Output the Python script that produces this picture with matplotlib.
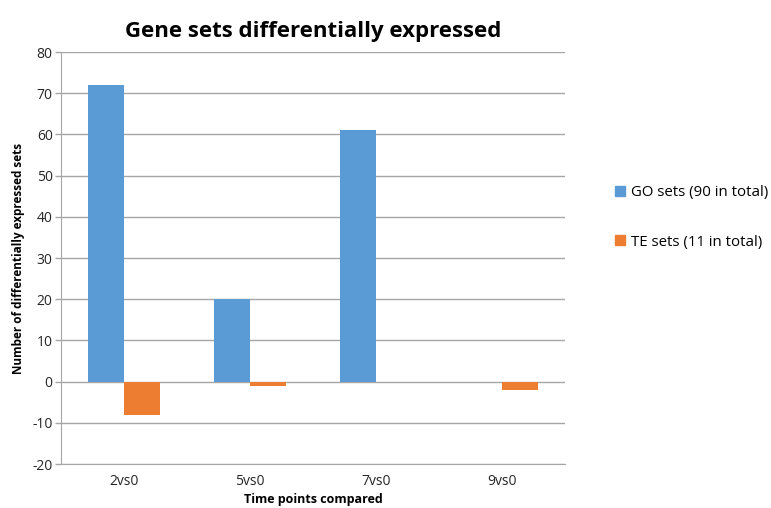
import numpy as np
import matplotlib.pyplot as plt
from matplotlib.patches import Patch

categories = ['2vs0', '5vs0', '7vs0', '9vs0']
go_sets = [72, 20, 61, 0]
te_sets = [-8, -1, 0, -2]
yticks = list(range(-20, 81, 10))

plt.rcParams['font.family'] = ['Open Sans', 'DejaVu Sans']
plt.rcParams['axes.unicode_minus'] = False

fig = plt.figure(figsize=(7.71, 5.08), dpi=100)
ax = fig.add_axes([0.0791, 0.0866, 0.6537, 0.8110])

x = np.arange(len(categories))
w = 0.286
ax.bar(x - w / 2, go_sets, w, color='#5b9bd5', zorder=3)
ax.bar(x + w / 2, te_sets, w, color='#ed7d31', zorder=3)

ax.set_xlim(-0.5, len(categories) - 0.5)
ax.set_ylim(-20, 80)
ax.set_yticks(yticks)
ax.set_xticks(x)
ax.set_xticklabels(categories)
ax.tick_params(axis='x', length=0, labelsize=10, colors='#262626', pad=7)
ax.tick_params(axis='y', length=4, width=1, color='#a6a6a6', labelsize=10,
               labelcolor='#262626', pad=2)
ax.grid(axis='y', color='#a6a6a6', linewidth=1, zorder=0)
for s in ['top', 'right']:
    ax.spines[s].set_visible(False)
for s in ['left', 'bottom']:
    ax.spines[s].set_color('#a6a6a6')

ax.set_title('Gene sets differentially expressed', fontsize=16, fontweight='bold', pad=11)
ax.set_xlabel('Time points compared', fontsize=9, fontweight='bold', labelpad=3)
ax.set_ylabel('Number of differentially expressed sets', fontsize=8.5, fontweight='bold',
              labelpad=5)

handles = [Patch(color='#5b9bd5', label='GO sets (90 in total)'),
           Patch(color='#ed7d31', label='TE sets (11 in total)')]
fig.legend(handles=handles, loc='center left', bbox_to_anchor=(0.78, 0.572),
           frameon=False, fontsize=10.8, handlelength=0.65, handleheight=0.65,
           handletextpad=0.4, labelspacing=2.3)

fig.savefig('out.png', dpi=100)
